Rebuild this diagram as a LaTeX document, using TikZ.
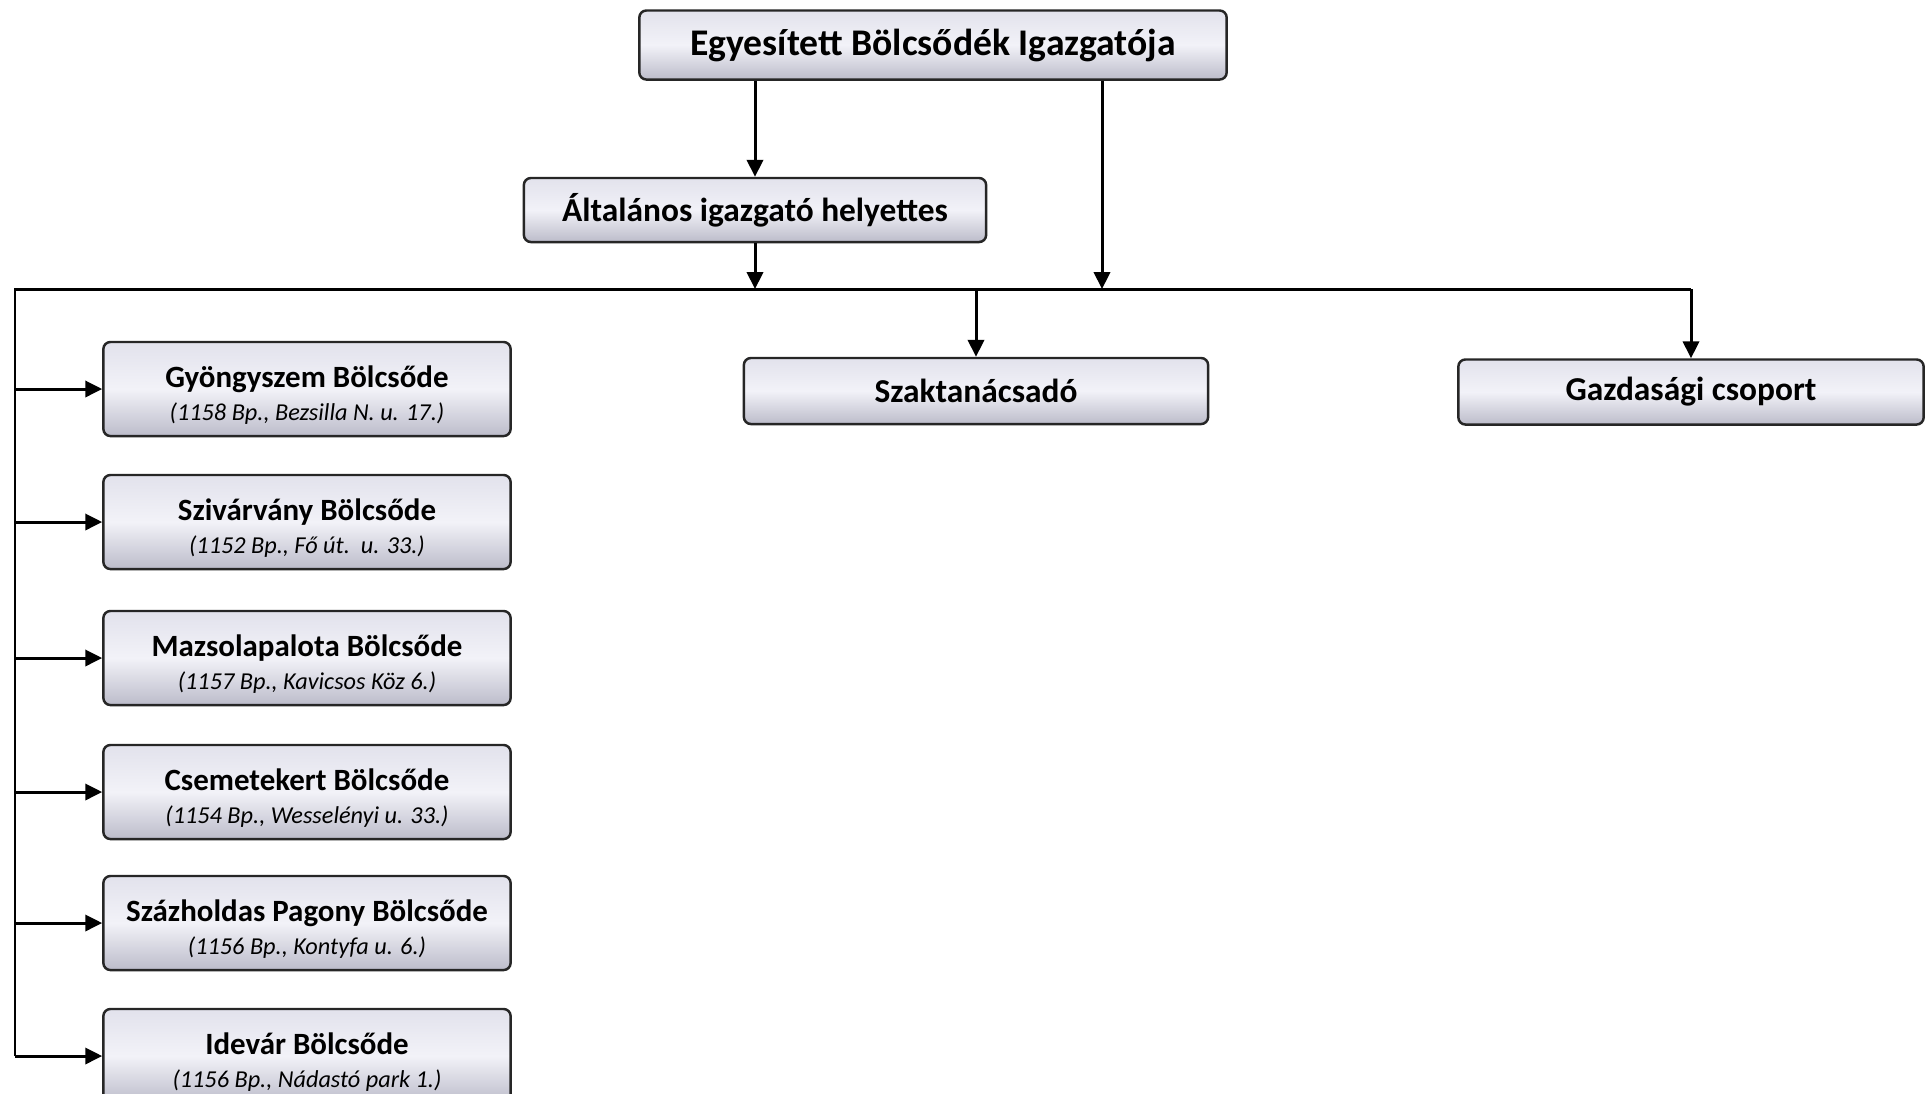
\documentclass[tikz,border=0pt]{standalone}
\usepackage{fontspec}
\setmainfont{Carlito}
\usetikzlibrary{arrows.meta}

\definecolor{boxtop}{RGB}{226,226,236}
\definecolor{boxmid}{RGB}{242,242,248}
\definecolor{boxbot}{RGB}{188,188,202}

\begin{document}
\begin{tikzpicture}[x=0.01cm,y=-0.01cm,
    unit/.style={draw=black!85,line width=0.7pt,rounded corners=2pt,top color=boxtop,bottom color=boxbot,middle color=boxmid,align=center,inner sep=0pt,font=\fontsize{9.5}{11}\selectfont\bfseries},
    nursery/.style={unit,minimum width=4.07cm,minimum height=0.94cm,font=\fontsize{8.8}{9.2}\selectfont},
    wire/.style={line width=0.85pt},
    link/.style={wire,-{Triangle[length=4.8pt,width=4.6pt]}}]
    \useasboundingbox (0,0) rectangle (1927,1093);
    \node[unit,minimum width=5.87cm,minimum height=0.69cm,font=\fontsize{10.7}{12}\selectfont\bfseries] (boss) at (933,45) {Egyesített Bölcsődék Igazgatója};
    \node[unit,minimum width=4.62cm,minimum height=0.64cm] (deputy) at (755,210) {Általános igazgató helyettes};
    \node[unit,minimum width=4.64cm,minimum height=0.66cm] (advisor) at (976,391) {Szaktanácsadó};
    \node[unit,minimum width=4.65cm,minimum height=0.65cm] (finance) at (1691,392) {Gazdasági csoport};
    \coordinate (busL) at (15,289);
    \coordinate (bossdrop) at (1102,289);
    \foreach \i/\y/\name/\addr in {
        1/389/Gyöngyszem Bölcsőde/1158 Bp.{,} Bezsilla N. u. 17.,
        2/522/Szivárvány Bölcsőde/1152 Bp.{,} Fő út.\ \ u. 33.,
        3/658/Mazsolapalota Bölcsőde/1157 Bp.{,} Kavicsos Köz 6.,
        4/792/Csemetekert Bölcsőde/1154 Bp.{,} Wesselényi u. 33.,
        5/923/Százholdas Pagony Bölcsőde/1156 Bp.{,} Kontyfa u. 6.,
        6/1056/Idevár Bölcsőde/1156 Bp.{,} Nádastó park 1.}
        \node[nursery] (n\i) at (307,\y) {\rule{0pt}{9.6pt}\textbf{\name}\\{\itshape\fontsize{6.9}{8}\selectfont(\addr)}};
    \draw[link] (boss.south -| deputy) -- (deputy.north);
    \draw[link] (deputy.south) -- (deputy.south |- busL);
    \draw[link] (boss.south -| bossdrop) -- (bossdrop);
    \draw[wire] (busL |- n6) -- (busL) -- (busL -| finance.north);
    \draw[link] (busL -| finance.north) -- (finance.north);
    \draw[link] (busL -| advisor.north) -- (advisor.north);
    \foreach \i in {1,...,6}
        \draw[link] (busL |- n\i) -- (n\i.west);
\end{tikzpicture}
\end{document}
